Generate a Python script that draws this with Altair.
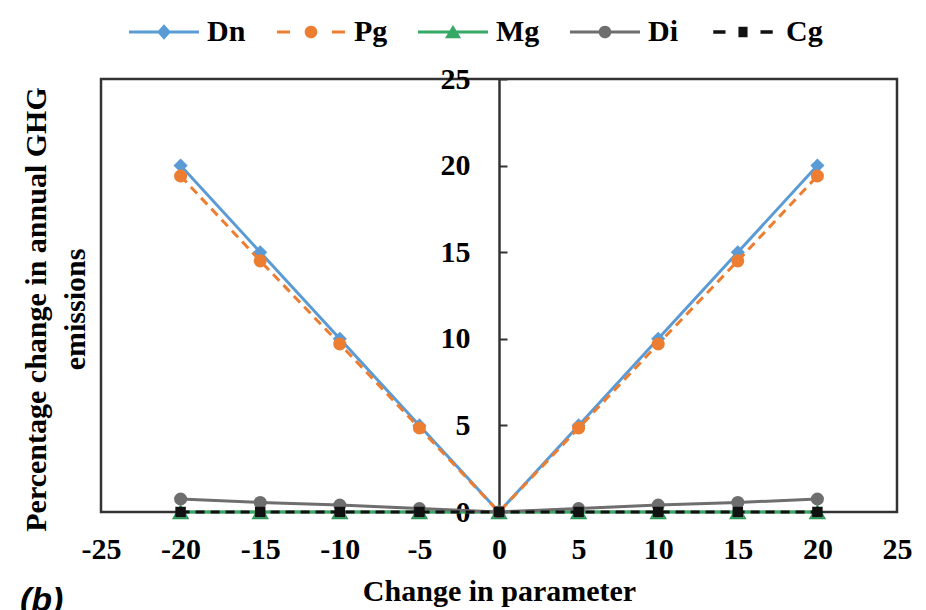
import altair as alt
import pandas as pd

# ---- data ----
x_vals = [-20, -15, -10, -5, 0, 5, 10, 15, 20]
dn = [20, 15, 10, 5, 0, 5, 10, 15, 20]
pg = [19.4, 14.5, 9.7, 4.85, 0, 4.85, 9.7, 14.5, 19.4]
mg = [0, 0, 0, 0, 0, 0, 0, 0, 0]
di = [0.75, 0.55, 0.4, 0.2, 0, 0.2, 0.4, 0.55, 0.75]
cg = [0, 0, 0, 0, 0, 0, 0, 0, 0]
series_names = ["Dn", "Pg", "Mg", "Di", "Cg"]
series_values = [dn, pg, mg, di, cg]
colors = ["#5B9BD5", "#ED7D31", "#35A965", "#6E6E6E", "#111111"]
x_ticks = [-25, -20, -15, -10, -5, 0, 5, 10, 15, 20, 25]
y_ticks = [0, 5, 10, 15, 20, 25]

rows = []
for name, vals in zip(series_names, series_values):
    for xv, yv in zip(x_vals, vals):
        rows.append({"x": xv, "value": yv, "series": name})
df = pd.DataFrame(rows)

SERIF = "Liberation Serif"
FRAME = "#333333"

xaxis = alt.Axis(
    values=x_ticks, grid=False, domain=False, ticks=False,
    labelExpr="'' + datum.value", labelPadding=22, labelFlush=False,
    labelFont=SERIF, labelFontSize=30, labelFontWeight="bold", labelColor="black",
    title="Change in parameter", titleFont=SERIF, titleFontSize=30,
    titleFontWeight="bold", titleColor="black", titlePadding=12,
)
yaxis = alt.Axis(
    orient="right", offset=-398, values=y_ticks, grid=False,
    domainColor=FRAME, domainWidth=2.5, tickColor=FRAME, tickWidth=2, tickSize=8,
    labelAlign="right", labelBaseline="middle", labelPadding=-37,
    labelFlush=False, labelOverlap=False,
    labelFont=SERIF, labelFontSize=30, labelFontWeight="bold", labelColor="black",
    title=["Percentage change in annual GHG", "emissions"],
    titleFont=SERIF, titleFontSize=30, titleFontWeight="bold", titleColor="black",
    titleAngle=270, titleX=-463, titleY=230, titleAlign="center",
    titleBaseline="middle", titleLineHeight=39,
)
X = alt.X("x:Q", scale=alt.Scale(domain=[-25, 25], nice=False, zero=False), axis=xaxis)
Y = alt.Y("value:Q", scale=alt.Scale(domain=[0, 25], nice=False), axis=yaxis)

dashes = {"Dn": None, "Pg": [9, 6], "Mg": None, "Di": None, "Cg": [9, 6]}
marker = {
    "Dn": dict(shape="diamond", size=200),
    "Pg": dict(shape="circle", size=170),
    "Mg": dict(shape="triangle-up", size=220),
    "Di": dict(shape="circle", size=170),
    "Cg": dict(shape="square", size=110),
}

layers = []
for name, col in zip(series_names, colors):
    base = alt.Chart(df).transform_filter(alt.datum.series == name)
    line_kw = dict(color=col, strokeWidth=3)
    if dashes[name]:
        line_kw["strokeDash"] = dashes[name]
    layers.append(base.mark_line(**line_kw).encode(x=X, y=Y))
    pt_kw = dict(filled=True, opacity=1, **marker[name])
    if name == "Mg":
        pt_kw.update(fill="#5CC088", stroke="#2A9A58", strokeWidth=1.5)
    else:
        pt_kw.update(color=col)
    layers.append(base.mark_point(**pt_kw).encode(x=X, y=Y))

# legend symbols: line + marker drawn as custom paths
legend_paths = [
    "M-1,-0.043H1V0.043H-1Z M0,-0.22L0.2,0L0,0.22L-0.2,0Z",
    "M-0.97,-0.043H-0.6V0.043H-0.97Z M0.6,-0.043H0.97V0.043H0.6Z "
    "M-0.18,0A0.18,0.18 0 1,1 0.18,0A0.18,0.18 0 1,1 -0.18,0Z",
    "M-1,-0.043H1V0.043H-1Z M0,-0.2L0.23,0.18L-0.23,0.18Z",
    "M-1,-0.043H1V0.043H-1Z M-0.18,0A0.18,0.18 0 1,1 0.18,0A0.18,0.18 0 1,1 -0.18,0Z",
    "M-0.85,-0.05H-0.5V0.05H-0.85Z M0.5,-0.05H0.85V0.05H0.5Z M-0.13,-0.15H0.13V0.15H-0.13Z",
]
leg = alt.Legend(
    orient="none", direction="horizontal", legendX=28, legendY=-82, title=None,
    labelFont=SERIF, labelFontSize=30, labelFontWeight="bold", labelColor="black",
    symbolSize=4900, symbolStrokeWidth=0, symbolOpacity=1, labelOffset=8,
    columnPadding=30, padding=0,
)
legend_layer = alt.Chart(df).transform_filter("datum.x > 1000").mark_point(
    filled=True, size=4900
).encode(
    x=X, y=Y,
    color=alt.Color("series:N", scale=alt.Scale(domain=series_names, range=colors), legend=leg),
    shape=alt.Shape("series:N", scale=alt.Scale(domain=series_names, range=legend_paths), legend=leg),
)
layers.append(legend_layer)

chart = alt.layer(*layers).properties(
    width=796, height=433,
    autosize=alt.AutoSizeParams(type="none"),
    padding={"left": 93, "top": 71, "right": 20, "bottom": 110},
    title=alt.TitleParams(
        "(b)", orient="bottom", anchor="start", frame="group", dx=-81, offset=-22,
        font="Liberation Sans", fontSize=34, fontStyle="italic", fontWeight="bold",
        color="black",
    ),
).configure_view(stroke=FRAME, strokeWidth=2.5)

chart.save("out.html", embed_options={"renderer": "svg", "actions": False})
